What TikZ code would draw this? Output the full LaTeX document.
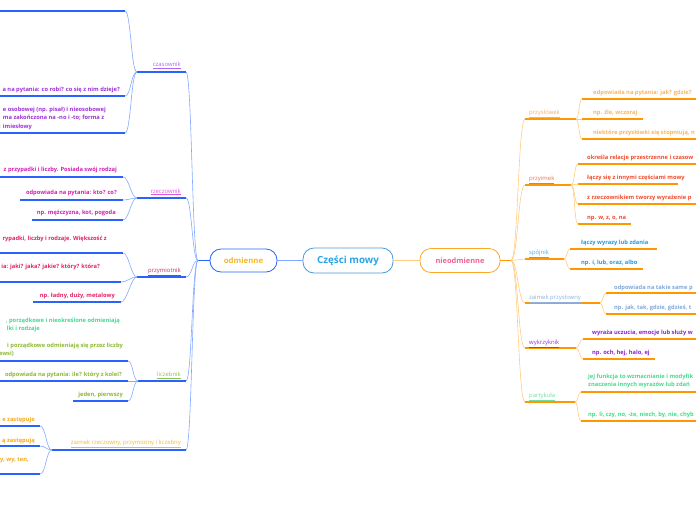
\documentclass[tikz,border=0pt]{standalone}
\usepackage{fontspec}
\setmainfont{Open Sans}
\usetikzlibrary{calc}
\definecolor{ulBlue}{HTML}{2962FF}
\definecolor{conBlue}{HTML}{82A8FF}
\definecolor{ulOrange}{HTML}{FF9800}
\definecolor{conOrange}{HTML}{FFCC80}
\definecolor{rootBorder}{HTML}{4A9AD8}
\definecolor{rootText}{HTML}{2AA5E8}
\definecolor{odmText}{HTML}{F5B82E}
\definecolor{nodBorder}{HTML}{FFA726}
\definecolor{nodText}{HTML}{F06292}
\definecolor{czLab}{HTML}{B066F0}
\definecolor{czTxt}{HTML}{9B30D9}
\definecolor{rzLab}{HTML}{E055E0}
\definecolor{rzTxt}{HTML}{D020B0}
\definecolor{pmLab}{HTML}{C0306A}
\definecolor{pmTxt}{HTML}{E0206A}
\definecolor{lcLab}{HTML}{8BC34A}
\definecolor{lcMint}{HTML}{40D890}
\definecolor{lcTxt}{HTML}{8DB830}
\definecolor{zaLab}{HTML}{F5B730}
\definecolor{zaTxt}{HTML}{F7A81B}
\definecolor{psLab}{HTML}{F8B060}
\definecolor{psTxt}{HTML}{FBB45A}
\definecolor{piLab}{HTML}{F07050}
\definecolor{piTxt}{HTML}{EE4B2B}
\definecolor{spLab}{HTML}{40B0F0}
\definecolor{spTxt}{HTML}{1E9BE0}
\definecolor{zpLab}{HTML}{90B0D8}
\definecolor{zpTxt}{HTML}{7FA8D8}
\definecolor{wyLab}{HTML}{9C30E0}
\definecolor{wyTxt}{HTML}{9020D0}
\definecolor{paLab}{HTML}{70DDA0}
\definecolor{paTxt}{HTML}{40DD8A}
\tikzset{
  lul/.style={draw=ulBlue, line width=1.3pt},
  lcon/.style={draw=conBlue, line width=0.6pt},
  rul/.style={draw=ulOrange, line width=1.3pt},
  rcon/.style={draw=conOrange, line width=0.6pt},
  lmain/.style={draw=conBlue, line width=1.2pt},
  rmain/.style={draw=conOrange, line width=1.2pt},
  lbl/.style={inner sep=0pt, font=\fontsize{5.9}{7}\selectfont},
  txt/.style={inner sep=0pt, font=\fontsize{5.75}{6.8}\selectfont\bfseries},
  mainbox/.style={draw, line width=0.8pt, fill=white, rounded corners=11pt, inner sep=0pt, font=\bfseries},
}
\begin{document}
\begin{tikzpicture}[x=1pt,y=-1pt]
\useasboundingbox (0,0) rectangle (696,520);
\clip (0,0) rectangle (696,520);
% ---------- main nodes
\node[mainbox, draw=rootBorder, text=rootText, minimum width=90pt, minimum height=25pt, font=\fontsize{9.8}{11}\selectfont\bfseries] (root) at (348,260.5) {Części mowy};
\node[mainbox, draw=ulBlue, text=odmText, minimum width=67pt, minimum height=23pt, font=\fontsize{7.8}{9}\selectfont\bfseries] (odm) at (243.5,260.5) {odmienne};
\node[mainbox, draw=nodBorder, text=nodText, minimum width=80pt, minimum height=24pt, font=\fontsize{7.4}{9}\selectfont\bfseries] (nod) at (460,260.5) {nieodmienne};
\draw[lmain] (root.west) -- (odm.east);
\draw[rmain] (root.east) -- (nod.west);
\coordinate (LB) at (198,260.5);
\coordinate (RB) at (511,260.5);
\draw[lul] (odm.west) -- (LB);
\draw[rul] (nod.east) -- (RB);

% ================= LEFT SIDE =================
% --- czasownik
\coordinate (czR) at (186,72); \coordinate (czL) at (137,72);
\draw[lcon] (LB) .. controls +(-6,0) and +(6,0) .. (czR);
\draw[lul] (czL) -- (czR);
\node[lbl, text=czLab, anchor=mid east] (czT) at (181,64) {\underline{czasownik}};
\coordinate (cz1) at (125,11); \coordinate (cz1L) at (0,11);
\coordinate (cz2) at (125,96); \coordinate (cz2L) at (0,96);
\coordinate (cz3) at (125,133); \coordinate (cz3L) at (0,133);
\foreach \c in {cz1,cz2,cz3} \draw[lcon] (czL) .. controls +(-6,0) and +(6,0) .. (\c);
\draw[lul] (cz1L) -- (cz1);
\draw[lul] (cz2L) -- (cz2);
\draw[lul] (cz3L) -- (cz3);
\node[txt, text=czTxt, anchor=mid east] (cz2T) at (120,89) {a na pytania: co robi? co się z nim dzieje?};
\node[txt, text=czTxt, anchor=mid east] (cz3a) at (106,109) {e osobowej (np. pisał) i nieosobowej};
\node[txt, text=czTxt, anchor=mid west] (cz3b) at (cz3a.west |- 0,117) {ma zakończona na -no i -to; forma z};
\node[txt, text=czTxt, anchor=mid east] (cz3c) at (32,126) {: imiesłowy};

% --- rzeczownik
\coordinate (rzR) at (186,198); \coordinate (rzL) at (137,198);
\draw[lcon] (LB) .. controls +(-6,0) and +(6,0) .. (rzR);
\draw[lul] (rzL) -- (rzR);
\node[lbl, text=rzLab, anchor=mid east] (rzT) at (181,190.5) {\underline{rzeczownik}};
\coordinate (rz1) at (123,177); \coordinate (rz1L) at (0,177);
\coordinate (rz2) at (123,200); \coordinate (rz2L) at (20,200);
\coordinate (rz3) at (123,220); \coordinate (rz3L) at (32,220);
\foreach \c in {rz1,rz2,rz3} \draw[lcon] (rzL) .. controls +(-6,0) and +(6,0) .. (\c);
\draw[lul] (rz1L) -- (rz1);
\draw[lul] (rz2L) -- (rz2);
\draw[lul] (rz3L) -- (rz3);
\node[txt, text=rzTxt, anchor=mid east] (rz1T) at (117,169) {z przypadki i liczby. Posiada swój rodzaj};
\node[txt, text=rzTxt, anchor=mid east] (rz2T) at (117,192) {odpowiada na pytania: kto? co?};
\node[txt, text=rzTxt, anchor=mid east] (rz3T) at (116,212) {np. mężczyzna, kot, pogoda};

% --- przymiotnik
\coordinate (pmR) at (186,277); \coordinate (pmL) at (137,277);
\draw[lcon] (LB) .. controls +(-6,0) and +(6,0) .. (pmR);
\draw[lul] (pmL) -- (pmR);
\node[lbl, text=pmLab, anchor=mid east] (pmT) at (181,269.5) {\underline{przymiotnik}};
\coordinate (pm1) at (123,253); \coordinate (pm1L) at (0,253);
\coordinate (pm2) at (121,282); \coordinate (pm2L) at (0,282);
\coordinate (pm3) at (121,302); \coordinate (pm3L) at (33,302);
\foreach \c in {pm1,pm2,pm3} \draw[lcon] (pmL) .. controls +(-6,0) and +(6,0) .. (\c);
\draw[lul] (pm1L) -- (pm1);
\draw[lul] (pm2L) -- (pm2);
\draw[lul] (pm3L) -- (pm3);
\node[txt, text=pmTxt, anchor=mid east] (pm1T) at (107,238) {rypadki, liczby i rodzaje. Większość z};
\node[txt, text=pmTxt, anchor=mid east] (pm2T) at (100,265.5) {ia: jaki? jaka? jakie? który? która?};
\node[txt, text=pmTxt, anchor=mid east] (pm3T) at (115,294.5) {np. ładny, duży, metalowy};

% --- liczebnik
\coordinate (lcR) at (186,381); \coordinate (lcL) at (138,381);
\draw[lcon] (LB) .. controls +(-6,0) and +(6,0) .. (lcR);
\draw[lul] (lcL) -- (lcR);
\node[lbl, text=lcLab, anchor=mid east] (lcT) at (181,374) {\underline{liczebnik}};
\coordinate (lc1) at (128,361); \coordinate (lc1L) at (0,361);
\coordinate (lc2) at (128,381); \coordinate (lc2L) at (0,381);
\coordinate (lc3) at (128,401); \coordinate (lc3L) at (73,401);
\foreach \c in {lc1,lc2,lc3} \draw[lcon] (lcL) .. controls +(-5,0) and +(5,0) .. (\c);
\draw[lul] (lc1L) -- (lc1);
\draw[lul] (lc2L) -- (lc2);
\draw[lul] (lc3L) -- (lc3);
\node[txt, text=lcMint, anchor=mid east] (lc1a) at (120,320) {, porządkowe i nieokreślone odmieniają};
\node[txt, text=lcMint, anchor=mid east] (lc1b) at (40,328) {lki i rodzaje};
\node[txt, text=lcTxt, anchor=mid east] (lc1c) at (123,345) {i porządkowe odmieniają się przez liczby};
\node[txt, text=lcTxt, anchor=mid east] (lc1d) at (14,353) {ewsi)};
\node[txt, text=lcTxt, anchor=mid east] (lc2T) at (122,374) {odpowiada na pytania: ile? który z kolei?};
\node[txt, text=lcTxt, anchor=mid east] (lc3T) at (123,394) {jeden, pierwszy};

% --- zaimek
\coordinate (zaR) at (186,450); \coordinate (zaL) at (52,450);
\draw[lcon] (LB) .. controls +(-6,0) and +(6,0) .. (zaR);
\draw[lul] (zaL) -- (zaR);
\node[lbl, text=zaLab, anchor=mid east] (zaT) at (181,442) {\underline{zaimek rzeczowny, przymiotny i liczebny}};
\coordinate (za1) at (40,426); \coordinate (za1L) at (0,426);
\coordinate (za2) at (40,446); \coordinate (za2L) at (0,446);
\coordinate (za3) at (40,474); \coordinate (za3L) at (0,474);
\foreach \c in {za1,za2,za3} \draw[lcon] (zaL) .. controls +(-6,0) and +(6,0) .. (\c);
\draw[lul] (za1L) -- (za1);
\draw[lul] (za2L) -- (za2);
\draw[lul] (za3L) -- (za3);
\node[txt, text=zaTxt, anchor=mid east] (za1T) at (35,419) {e zastępuje};
\node[txt, text=zaTxt, anchor=mid east] (za2T) at (35,440) {ą zastępują};
\node[txt, text=zaTxt, anchor=mid east] (za3T) at (29,459) {y, wy, ten,};

% ================= RIGHT SIDE =================
% --- przyslowek
\coordinate (psL) at (525,119); \coordinate (psR) at (576,119);
\draw[rcon] (RB) .. controls +(7,0) and +(-7,0) .. (psL);
\draw[rul] (psL) -- (psR);
\node[lbl, text=psLab, anchor=mid west] (psT) at (529,112) {\underline{przysłówek}};
\coordinate (ps1) at (582,99); \coordinate (ps1R) at (700,99);
\coordinate (ps2) at (582,119); \coordinate (ps2R) at (643,119);
\coordinate (ps3) at (582,139); \coordinate (ps3R) at (700,139);
\foreach \c in {ps1,ps2,ps3} \draw[rcon] (psR) .. controls +(3,0) and +(-3,0) .. (\c);
\draw[rul] (ps1) -- (ps1R);
\draw[rul] (ps2) -- (ps2R);
\draw[rul] (ps3) -- (ps3R);
\node[txt, text=psTxt, anchor=mid west] (ps1T) at (593,92) {odpowiada na pytania: jak? gdzie?};
\node[txt, text=psTxt, anchor=mid west] (ps2T) at (593,112) {np. źle, wczoraj};
\node[txt, text=psTxt, anchor=mid west] (ps3T) at (593,132) {niektóre przysłówki się stopniują, n};

% --- przyimek
\coordinate (piL) at (525,185); \coordinate (piR) at (571,185);
\draw[rcon] (RB) .. controls +(7,0) and +(-7,0) .. (piL);
\draw[rul] (piL) -- (piR);
\node[lbl, text=piLab, anchor=mid west] (piT) at (529,178) {\underline{przyimek}};
\coordinate (pi1) at (578,164); \coordinate (pi1R) at (700,164);
\coordinate (pi2) at (578,184); \coordinate (pi2R) at (678,184);
\coordinate (pi3) at (578,204); \coordinate (pi3R) at (700,204);
\coordinate (pi4) at (578,224); \coordinate (pi4R) at (631,224);
\foreach \c in {pi1,pi2,pi3,pi4} \draw[rcon] (piR) .. controls +(4,0) and +(-4,0) .. (\c);
\draw[rul] (pi1) -- (pi1R);
\draw[rul] (pi2) -- (pi2R);
\draw[rul] (pi3) -- (pi3R);
\draw[rul] (pi4) -- (pi4R);
\node[txt, text=piTxt, anchor=mid west] (pi1T) at (587,157) {określa relacje przestrzenne i czasow};
\node[txt, text=piTxt, anchor=mid west] (pi2T) at (587,177) {łączy się z innymi częściami mowy};
\node[txt, text=piTxt, anchor=mid west] (pi3T) at (587,197) {z rzeczownikiem tworzy wyrażenie p};
\node[txt, text=piTxt, anchor=mid west] (pi4T) at (587,217) {np. w, z, o, na};

% --- spojnik
\coordinate (spL) at (525,259); \coordinate (spR) at (564,259);
\draw[rcon] (RB) .. controls +(7,0) and +(-7,0) .. (spL);
\draw[rul] (spL) -- (spR);
\node[lbl, text=spLab, anchor=mid west] (spT) at (529,252) {\underline{spójnik}};
\coordinate (sp1) at (570,249); \coordinate (sp1R) at (657,249);
\coordinate (sp2) at (570,269); \coordinate (sp2R) at (643,269);
\foreach \c in {sp1,sp2} \draw[rcon] (spR) .. controls +(3,0) and +(-3,0) .. (\c);
\draw[rul] (sp1) -- (sp1R);
\draw[rul] (sp2) -- (sp2R);
\node[txt, text=spTxt, anchor=mid west] (sp1T) at (581,242) {łączy wyrazy lub zdania};
\node[txt, text=spTxt, anchor=mid west] (sp2T) at (581,262) {np. i, lub, oraz, albo};

% --- zaimek przyslowny
\coordinate (zpL) at (525,303); \coordinate (zpR) at (600,303);
\draw[rcon] (RB) .. controls +(7,0) and +(-7,0) .. (zpL);
\draw[rul] (zpL) -- (zpR);
\node[lbl, text=zpLab, anchor=mid west] (zpT) at (529,296.5) {\underline{zaimek przysłowny}};
\coordinate (zp1) at (606,293); \coordinate (zp1R) at (700,293);
\coordinate (zp2) at (606,314); \coordinate (zp2R) at (700,314);
\foreach \c in {zp1,zp2} \draw[rcon] (zpR) .. controls +(3,0) and +(-3,0) .. (\c);
\draw[rul] (zp1) -- (zp1R);
\draw[rul] (zp2) -- (zp2R);
\node[txt, text=zpTxt, anchor=mid west] (zp1T) at (614,286.5) {odpowiada na takie same p};
\node[txt, text=zpTxt, anchor=mid west] (zp2T) at (614,307) {np. jak, tak, gdzie, gdzieś, t};

% --- wykrzyknik
\coordinate (wyL) at (525,348); \coordinate (wyR) at (576,348);
\draw[rcon] (RB) .. controls +(7,0) and +(-7,0) .. (wyL);
\draw[rul] (wyL) -- (wyR);
\node[lbl, text=wyLab, anchor=mid west] (wyT) at (529,341.5) {\underline{wykrzyknik}};
\coordinate (wy1) at (583,339); \coordinate (wy1R) at (700,339);
\coordinate (wy2) at (583,359); \coordinate (wy2R) at (655,359);
\foreach \c in {wy1,wy2} \draw[rcon] (wyR) .. controls +(3,0) and +(-3,0) .. (\c);
\draw[rul] (wy1) -- (wy1R);
\draw[rul] (wy2) -- (wy2R);
\node[txt, text=wyTxt, anchor=mid west] (wy1T) at (592,332) {wyraża uczucia, emocje lub służy w};
\node[txt, text=wyTxt, anchor=mid west] (wy2T) at (592,352) {np. och, hej, halo, ej};

% --- partykula
\coordinate (paL) at (525,402); \coordinate (paR) at (575,402);
\draw[rcon] (RB) .. controls +(7,0) and +(-7,0) .. (paL);
\draw[rul] (paL) -- (paR);
\node[lbl, text=paLab, anchor=mid west] (paT) at (529,395) {\underline{partykuła}};
\coordinate (pa1) at (581,392); \coordinate (pa1R) at (700,392);
\coordinate (pa2) at (581,421); \coordinate (pa2R) at (700,421);
\foreach \c in {pa1,pa2} \draw[rcon] (paR) .. controls +(3,0) and +(-3,0) .. (\c);
\draw[rul] (pa1) -- (pa1R);
\draw[rul] (pa2) -- (pa2R);
\node[txt, text=paTxt, anchor=mid west] (pa1a) at (588,376) {jej funkcja to wzmacnianie i modyfik};
\node[txt, text=paTxt, anchor=mid west] (pa1b) at (588,383.5) {znaczenia innych wyrazów lub zdań};
\node[txt, text=paTxt, anchor=mid west] (pa2T) at (588,413.5) {np. li, czy, no, -że, niech, by, nie, chyb};
\end{tikzpicture}
\end{document}
